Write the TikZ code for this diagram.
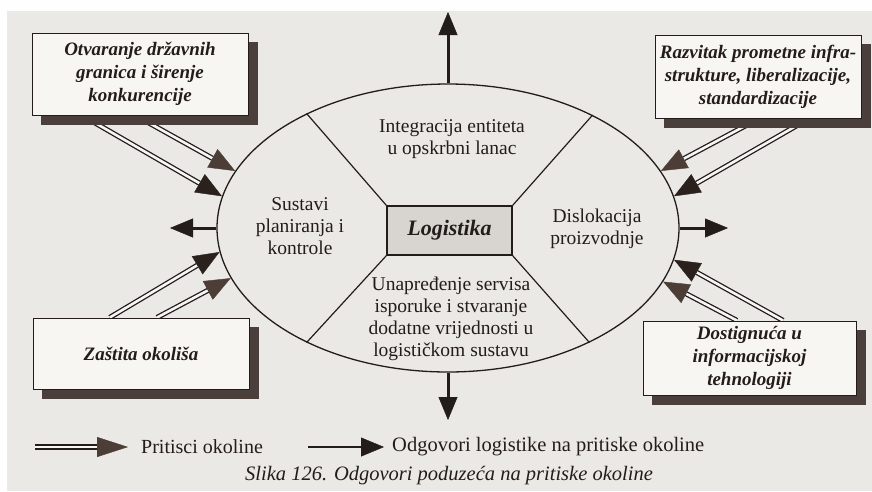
\documentclass[tikz,border=0pt]{standalone}
\usepackage{fontspec}
\setmainfont{Liberation Serif}
\usetikzlibrary{arrows.meta,shapes.geometric,calc}
\definecolor{bgc}{HTML}{EBE9E5}
\definecolor{ink}{HTML}{231C1A}
\definecolor{shadc}{HTML}{4A3F3A}
\definecolor{boxc}{HTML}{F8F6F3}
\definecolor{logc}{HTML}{D8D4D0}
\definecolor{headA}{HTML}{4C3D37}
\definecolor{headB}{HTML}{2A201C}
\pgfdeclarelayer{back}\pgfdeclarelayer{arr}\pgfdeclarelayer{shad}
\pgfsetlayers{back,arr,shad,main}
\tikzset{
  press/.style={draw=ink, line width=1.3pt, double=bgc!40!white, double distance=2.6pt,
    -{Triangle[length=26pt,width=21pt,line width=0.4pt,color=#1,fill=#1]}},
  resp/.style={draw=ink, line width=3pt, -{Triangle[length=23pt,width=19pt,line width=0.4pt,color=ink,fill=ink]}},
  txt/.style={inner sep=0pt, align=center, text=ink, font=\fontsize{19.5}{22}\selectfont},
  boxs/.style={draw=ink, fill=boxc, line width=1pt, inner sep=0pt, align=center, text=ink,
    font=\fontsize{19}{23}\selectfont\bfseries\itshape},
  divl/.style={draw=ink, line width=1.2pt},
}
\begin{document}
\begin{tikzpicture}[x=1pt,y=-1pt]
\useasboundingbox (0,0) rectangle (872,491);
\begin{pgfonlayer}{back}
\fill[white!97!bgc] (0,0) rectangle (872,491);
\fill[bgc] (7,11) rectangle (872,491);
\end{pgfonlayer}

% central ellipse
\node[ellipse, draw=ink, line width=1.3pt, minimum width=462pt, minimum height=288pt, inner sep=0pt] (E) at (448,228) {};
\node[draw=ink, fill=logc, line width=1.5pt, minimum width=125pt, minimum height=49pt, inner sep=0pt,
  text=ink, font=\fontsize{22}{24}\selectfont\bfseries\itshape] (L) at (449.5,230.5) {Logistika};
\draw[divl] (L.north west) -- (E.141);
\draw[divl] (L.north east) -- (E.38);
\draw[divl] (L.south west) -- (E.219);
\draw[divl] (L.south east) -- (E.321);

\node[txt] (T1) at (452,139) {Integracija entiteta\\u opskrbni lanac};
\node[txt] (T2) at (300,226) {Sustavi\\planiranja i\\kontrole};
\node[txt] (T3) at (597,229) {Dislokacija\\proizvodnje};
\node[txt] (T4) at (451,319) {Unapređenje servisa\\isporuke i stvaranje\\dodatne vrijednosti u\\logističkom sustavu};

% boxes
\node[boxs, minimum width=216pt, minimum height=82pt] (B1) at (140,74) {Otvaranje državnih\\granica i širenje\\konkurencije};
\node[boxs, minimum width=206pt, minimum height=83pt] (B2) at (758,76.5) {Razvitak prometne infra-\\strukture, liberalizacije,\\standardizacije};
\node[boxs, minimum width=216pt, minimum height=71pt] (B3) at (141,353.5) {Zaštita okoliša};
\node[boxs, minimum width=213pt, minimum height=74pt] (B4) at (749.5,358) {Dostignuća u\\informacijskoj\\tehnologiji};

\begin{pgfonlayer}{shad}
\foreach \b in {B1,B2,B3,B4}
  \fill[shadc] ([xshift=9pt,yshift=-9pt]\b.north west) rectangle ([xshift=9pt,yshift=-9pt]\b.south east);
\end{pgfonlayer}

% pressure arrows
\coordinate (s1a) at ($(B1.south west)!0.48!(B1.south east)$);
\coordinate (s1b) at ($(B1.south west)!0.234!(B1.south east)$);
\coordinate (s2a) at ($(B2.south west)!0.505!(B2.south east)$);
\coordinate (s2b) at ($(B2.south west)!0.747!(B2.south east)$);
\coordinate (s3a) at ($(B3.north west)!0.356!(B3.north east)$);
\coordinate (s3b) at ($(B3.north west)!0.574!(B3.north east)$);
\coordinate (s4a) at ($(B4.north west)!0.657!(B4.north east)$);
\coordinate (s4b) at ($(B4.north west)!0.441!(B4.north east)$);
\begin{pgfonlayer}{arr}
\draw[press=headA] (s1a) -- (E.165);
\draw[press=headB] (s1b) -- (E.172);
\draw[press=headA] (s2a) -- (E.15);
\draw[press=headB] (s2b) -- (E.8);
\draw[press=headB] (s3a) -- (E.186);
\draw[press=headA] (s3b) -- (E.193);
\draw[press=headB] (s4a) -- (E.352);
\draw[press=headA] (s4b) -- (E.346);
\end{pgfonlayer}

% response arrows
\coordinate (rt) at (448,12);
\coordinate (rb) at (448,420);
\coordinate (rl) at (170,228);
\coordinate (rr) at (728,228);
\draw[resp] (E.north) -- (rt);
\draw[resp] (E.south) -- (rb);
\draw[resp] (E.west) -- (rl);
\draw[resp] (E.east) -- (rr);

% legend
\coordinate (la1) at (35,447);
\coordinate (la2) at (128,447);
\draw[draw=ink, line width=1.3pt, double=bgc!40!white, double distance=2.6pt,
  -{Triangle[length=31pt,width=20pt,line width=0.4pt,color=headA,fill=headA]}] (la1) -- (la2);
\node[anchor=west, inner sep=0pt, text=ink, font=\fontsize{20}{22}\selectfont] (lp) at (141,447) {Pritisci okoline};
\coordinate (lb1) at (308,447);
\coordinate (lb2) at (384,447);
\draw[resp, line width=2.6pt] (lb1) -- (lb2);
\node[anchor=west, inner sep=0pt, text=ink, font=\fontsize{20.5}{22}\selectfont] (lo) at (392,447) {Odgovori logistike na pritiske okoline};
\node[inner sep=0pt, text=ink, font=\fontsize{20.5}{22}\selectfont\itshape] (cap) at (449,476) {Slika 126. Odgovori poduzeća na pritiske okoline};
\end{tikzpicture}
\end{document}
